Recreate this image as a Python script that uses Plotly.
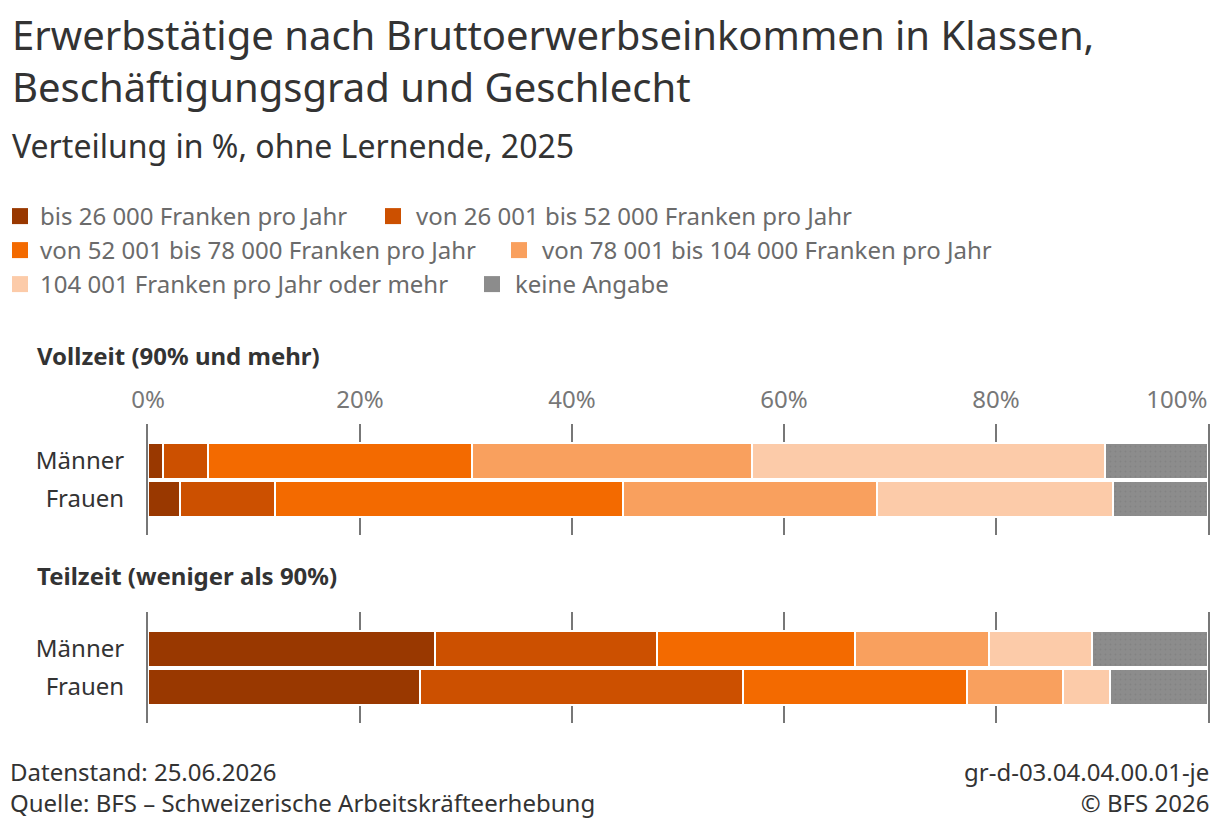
import plotly.graph_objects as go

# ---------------- data ----------------
categories = ["Männer", "Frauen"]
income_classes = [
    "bis 26 000 Franken pro Jahr",
    "von 26 001 bis 52 000 Franken pro Jahr",
    "von 52 001 bis 78 000 Franken pro Jahr",
    "von 78 001 bis 104 000 Franken pro Jahr",
    "104 001 Franken pro Jahr oder mehr",
    "keine Angabe",
]
vollzeit_maenner = [1.4, 4.3, 24.9, 26.4, 33.3, 9.7]
vollzeit_frauen = [3.0, 9.0, 32.8, 24.0, 22.2, 9.0]
teilzeit_maenner = [27.1, 20.9, 18.7, 12.6, 9.8, 10.9]
teilzeit_frauen = [25.7, 30.4, 21.2, 9.0, 4.5, 9.2]
tick_values = [0, 20, 40, 60, 80, 100]
tick_labels = ["0%", "20%", "40%", "60%", "80%", "100%"]

colors = ["#993800", "#cc5000", "#f36a00", "#f9a05e", "#fccba9", "#8c8c8c"]

W, H = 1220, 832
ML, MR = 148, 12
PW = W - ML - MR
FONT = "Noto Sans"


def px_x(px):
    return (px - ML) / PW


def px_y(py):
    return 1 - py / H


# legend placement (left edge of each square, row top) in pixels
legend_pos = [(10, 194), (385, 194), (10, 228), (511, 228), (10, 262), (484, 262)]

fig = go.Figure()

for i, name in enumerate(income_classes):
    pattern = dict(shape="") if i < 5 else dict(shape=".", fgcolor="#7a7a7a", bgcolor=colors[i], size=5, solidity=0.12)
    fig.add_trace(go.Bar(
        x=[vollzeit_maenner[i], vollzeit_frauen[i]], y=categories, orientation="h",
        marker=dict(color=colors[i], line=dict(color="white", width=2), pattern=pattern),
        xaxis="x", yaxis="y", showlegend=False, name=name, hoverinfo="x+name"))
    fig.add_trace(go.Bar(
        x=[teilzeit_maenner[i], teilzeit_frauen[i]], y=categories, orientation="h",
        marker=dict(color=colors[i], line=dict(color="white", width=2), pattern=pattern),
        xaxis="x2", yaxis="y2", showlegend=False, name=name, hoverinfo="x+name"))
    # legend entry (one legend box per item, placed like the reference's flowing legend)
    fig.add_trace(go.Scatter(
        x=[None], y=[None], mode="markers", name=name,
        marker=dict(symbol="square", size=16, color=colors[i]),
        xaxis="x", yaxis="y", showlegend=True,
        legend="legend" if i == 0 else f"legend{i + 1}"))

step = 38.0
top_v = -37 / step
span = 111 / step
yrange = [top_v + span, top_v]

common_x = dict(range=[0, 100], tickvals=tick_values, showgrid=True, gridcolor="#777777",
                gridwidth=2, zeroline=False, showline=False, ticks="", fixedrange=True)
common_y = dict(range=yrange, type="category", categoryorder="array", categoryarray=categories,
                showgrid=False, zeroline=False, showline=True, mirror=True, linecolor="#777777",
                linewidth=2, ticks="", ticklabelstandoff=17,
                tickfont=dict(family=FONT, size=24, color="#333333"), fixedrange=True)

nbsp = "\u00a0"
ticktext = tick_labels[:-1] + [tick_labels[-1] + nbsp * 10]

layout_legends = {}
for i, (lx, ly) in enumerate(legend_pos):
    key = "legend" if i == 0 else f"legend{i + 1}"
    first_col = (i % 2 == 0)
    itemw = 30 if first_col else 36
    x0 = 0 if first_col else lx - 15
    layout_legends[key] = dict(
        orientation="h", xref="container", yref="container",
        x=x0 / W, y=1 - ly / H, xanchor="left", yanchor="top",
        itemwidth=itemw,
        font=dict(family=FONT, size=24, color="#6b6b6b"),
        bgcolor="rgba(0,0,0,0)", borderwidth=0)

fig.update_layout(
    width=W, height=H,
    margin=dict(l=ML, r=MR, t=0, b=0, autoexpand=False),
    paper_bgcolor="white", plot_bgcolor="white",
    barmode="stack", bargap=0.053,
    font=dict(family=FONT, color="#333333"),
    xaxis=dict(**common_x, side="top", anchor="y", ticktext=ticktext, ticklabeloverflow="allow",
               tickfont=dict(family=FONT, size=24, color="#777777"), ticklabelstandoff=10),
    xaxis2=dict(**common_x, anchor="y2", showticklabels=False),
    yaxis=dict(**common_y, domain=[px_y(535), px_y(424)], anchor="x"),
    yaxis2=dict(**common_y, domain=[px_y(723), px_y(612)], anchor="x2"),
    showlegend=True,
    **layout_legends,
)

annotations = [
    dict(text="Erwerbstätige nach Bruttoerwerbseinkommen in Klassen,<br>Beschäftigungsgrad und Geschlecht",
         x=px_x(10), y=px_y(5), xanchor="left", yanchor="top", align="left",
         font=dict(family=FONT, size=40, color="#333333")),
    dict(text="Verteilung in %, ohne Lernende, 2025",
         x=px_x(10), y=px_y(145), xanchor="left", yanchor="middle", align="left",
         font=dict(family=FONT, size=32, color="#333333")),
    dict(text="<b>Vollzeit (90% und mehr)</b>",
         x=px_x(35), y=px_y(355), xanchor="left", yanchor="middle", align="left",
         font=dict(family=FONT, size=24, color="#333333")),
    dict(text="<b>Teilzeit (weniger als 90%)</b>",
         x=px_x(35), y=px_y(575), xanchor="left", yanchor="middle", align="left",
         font=dict(family=FONT, size=24, color="#333333")),
    dict(text="Datenstand: 25.06.2026<br>Quelle: BFS – Schweizerische Arbeitskräfteerhebung",
         x=px_x(8), y=px_y(787), xanchor="left", yanchor="middle", align="left",
         font=dict(family=FONT, size=24, color="#333333")),
    dict(text="gr-d-03.04.04.00.01-je<br>© BFS 2026",
         x=px_x(1211), y=px_y(787), xanchor="right", yanchor="middle", align="right",
         font=dict(family=FONT, size=24, color="#333333")),
]
for a in annotations:
    a.update(xref="paper", yref="paper", showarrow=False)
fig.update_layout(annotations=annotations)

fig.write_html("out.html", config={"displayModeBar": False})
